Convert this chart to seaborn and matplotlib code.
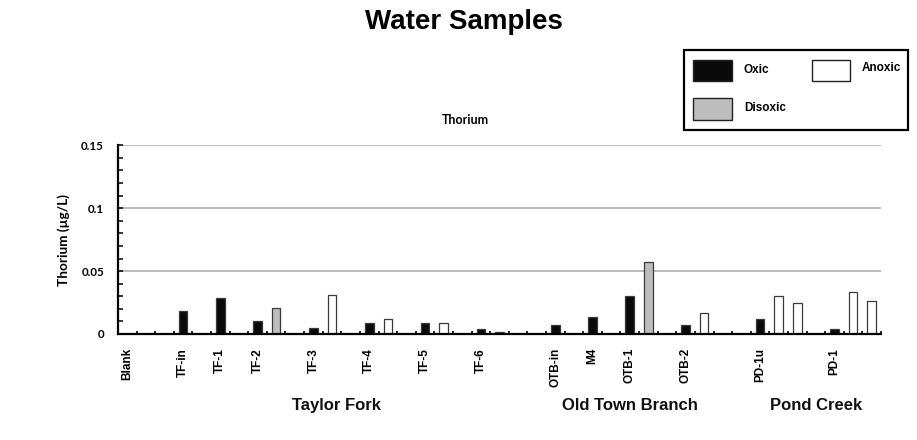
import matplotlib
matplotlib.use("Agg")
import matplotlib.pyplot as plt
from matplotlib.patches import Rectangle
from matplotlib.transforms import blended_transform_factory
import pandas as pd
import seaborn as sns

# Column layout: the chart has 41 category slots; samples sit on some of them
n_slots = 41
sample_labels = ["Blank", "TF-in", "TF-1", "TF-2", "TF-3", "TF-4", "TF-5", "TF-6",
                 "OTB-in", "M4", "OTB-1", "OTB-2", "PD-1u", "PD-1"]
sample_slots = [0, 3, 5, 7, 10, 13, 16, 19, 23, 25, 27, 30, 34, 38]

# Thorium concentrations (µg/L) by redox condition
oxic_slots = [3, 5, 7, 10, 13, 16, 19, 23, 25, 27, 30, 34, 38]
oxic_values = [0.018, 0.029, 0.010, 0.005, 0.009, 0.0085, 0.0042,
               0.007, 0.0136, 0.030, 0.007, 0.012, 0.0043]
disoxic_slots = [8, 28]
disoxic_values = [0.021, 0.057]
anoxic_slots = [11, 14, 17, 20, 31, 35, 36, 39, 40]
anoxic_values = [0.031, 0.012, 0.009, 0.0015, 0.017, 0.030, 0.025, 0.033, 0.026]

# Site groups and the slot each group caption is centred on
group_names = ["Taylor Fork", "Old Town Branch", "Pond Creek"]
group_centers = [11.25, 27.0, 37.0]

conditions = ["Oxic", "Disoxic", "Anoxic"]
colors = {"Oxic": "#0a0a0a", "Disoxic": "#bdbdbd", "Anoxic": "#ffffff"}

df = pd.concat([
    pd.DataFrame({"slot": oxic_slots, "value": oxic_values, "condition": "Oxic"}),
    pd.DataFrame({"slot": disoxic_slots, "value": disoxic_values, "condition": "Disoxic"}),
    pd.DataFrame({"slot": anoxic_slots, "value": anoxic_values, "condition": "Anoxic"}),
], ignore_index=True)

sns.set_theme(style="white")
plt.rcParams["font.family"] = ["Liberation Sans", "DejaVu Sans"]
plt.rcParams["text.color"] = "black"
plt.rcParams["axes.labelcolor"] = "black"
plt.rcParams["xtick.color"] = "black"
plt.rcParams["ytick.color"] = "black"

W, H = 917, 440
fig = plt.figure(figsize=(W / 100, H / 100), dpi=100)
ax = fig.add_axes([118 / W, 1 - 334 / H, (881 - 118) / W, (334 - 145.3) / H])

sns.barplot(data=df, x="slot", y="value", hue="condition",
            order=list(range(n_slots)), hue_order=conditions, palette=colors,
            dodge=False, width=0.46, edgecolor="#3a3a3a", linewidth=0.9,
            legend=False, ax=ax)

ax.set_xlim(-0.5, n_slots - 0.5)
ax.set_ylim(0, 0.15)

# Gridlines at the major y ticks
for yv in [0.05, 0.1, 0.15]:
    ax.axhline(yv, color="#a8a8a8", lw=1.1, zorder=0)

sns.despine(ax=ax, top=True, right=True)
for side in ["left", "bottom"]:
    ax.spines[side].set_color("black")
    ax.spines[side].set_linewidth(1.6)

# y axis ticks
ax.set_yticks([0, 0.05, 0.1, 0.15])
ax.set_yticklabels(["0", "0.05", "0.1", "0.15"], fontfamily="Lato",
                   fontweight="bold", fontsize=8.3)
ax.set_yticks([i / 100 for i in range(16)], minor=True)
ax.tick_params(axis="y", which="both", direction="in", length=3.5, width=1.1,
               color="black", pad=10, left=True)

# x axis: labels on sample slots, small tick marks at slot boundaries
ax.set_xticks(sample_slots)
ax.set_xticklabels(sample_labels, rotation=90, fontweight="bold", fontsize=8.5,
                   va="top", ha="center")
ax.set_xticks([k - 0.5 for k in range(n_slots + 1)], minor=True)
ax.tick_params(axis="x", which="major", length=0, pad=10)
ax.tick_params(axis="x", which="minor", direction="in", length=2.5, width=1.2,
               color="black", bottom=True)
ax.set_xlabel("")
ax.set_ylabel("Thorium (µg/L)", fontfamily="Lato", fontweight="bold",
              fontsize=9.8, labelpad=8)

# Site group captions below the sample labels
trans = blended_transform_factory(ax.transData, ax.transAxes)
for name, cx in zip(group_names, group_centers):
    ax.text(cx, -0.38, name, transform=trans, ha="center", va="center",
            fontsize=12, fontweight="bold", color="#111111")

# Titles
fig.text(463.5 / W, 1 - 22 / H, "Water Samples", ha="center", va="center",
         fontsize=20, fontweight="bold", color="black")
fig.text(465.7 / W, 1 - 120 / H, "Thorium", ha="center", va="center",
         fontfamily="Lato", fontsize=9, fontweight="bold", color="black")

# Legend box
def fig_rect(x0, y0, x1, y1, **kw):
    return Rectangle((x0 / W, 1 - y1 / H), (x1 - x0) / W, (y1 - y0) / H,
                     transform=fig.transFigure, **kw)

fig.add_artist(fig_rect(684, 50, 908, 130, fill=False, ec="black", lw=1.6))
legend_items = [("Oxic", 693, 60, 732, 81, 744, 70),
                ("Anoxic", 812, 60, 850, 81, 862, 68),
                ("Disoxic", 693, 98, 732, 120, 744, 108)]
for name, x0, y0, x1, y1, tx, ty in legend_items:
    fig.add_artist(fig_rect(x0, y0, x1, y1, fc=colors[name], ec="#222222", lw=1.0))
    fig.text(tx / W, 1 - ty / H, name, ha="left", va="center",
             fontsize=8.5, fontweight="bold", color="black")

fig.savefig("out.png", dpi=100)
